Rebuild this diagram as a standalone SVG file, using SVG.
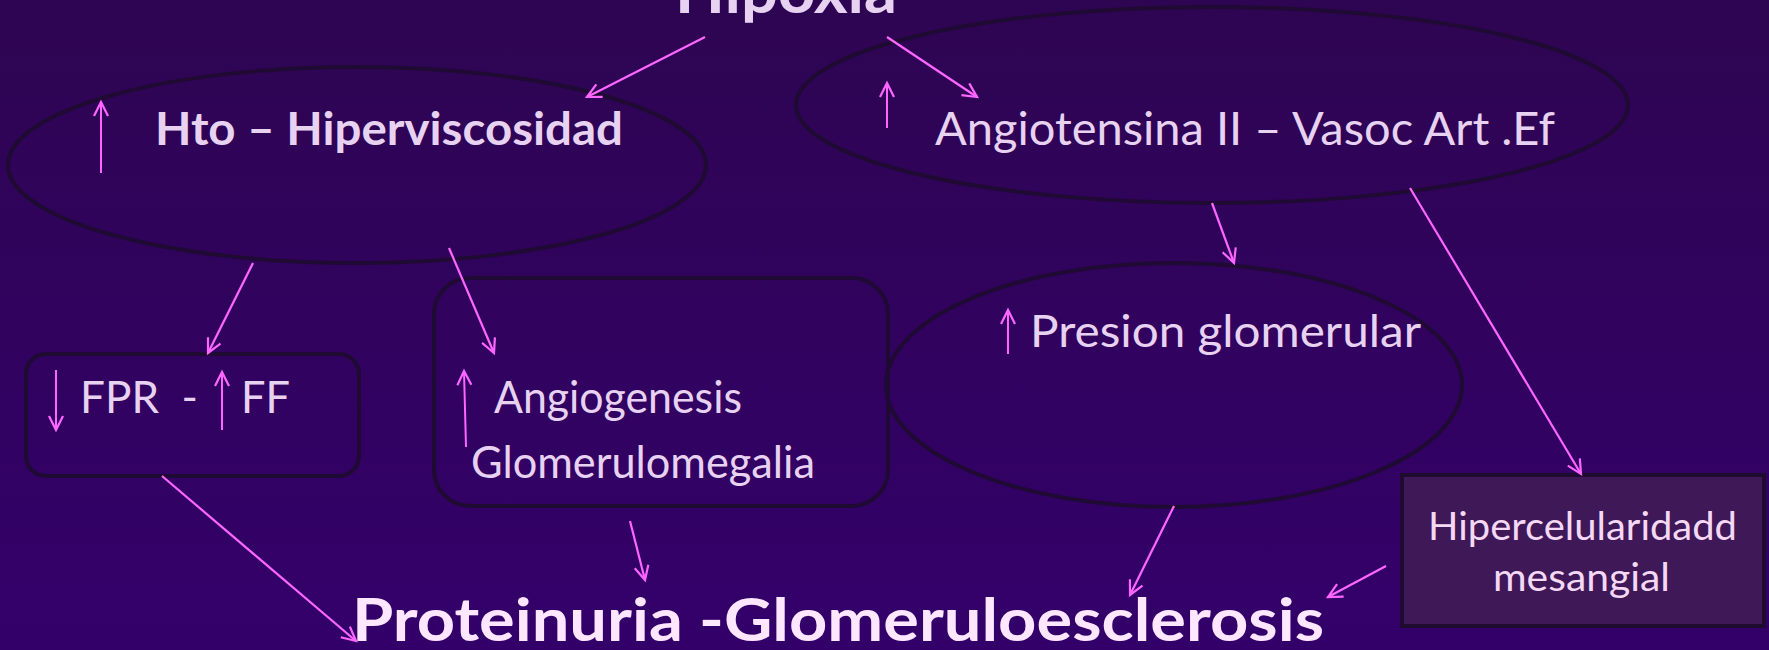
<svg xmlns="http://www.w3.org/2000/svg" width="1769" height="650" viewBox="0 0 1769 650">
<defs>
<linearGradient id="bg" x1="0" y1="0" x2="0" y2="1">
<stop offset="0" stop-color="#2e0552"/>
<stop offset="1" stop-color="#33006a"/>
</linearGradient>
<marker id="ah" markerUnits="userSpaceOnUse" markerWidth="20" markerHeight="20" refX="15" refY="8" orient="auto" viewBox="0 0 20 16">
<path d="M1,1 L15,8 L1,15" fill="none" stroke="#ff66ff" stroke-width="2.2"/>
</marker>
</defs>
<style>
.shape{fill:none;stroke:#1f0a33;stroke-width:4}
.t{font-family:Lato,"Open Sans","Liberation Sans",sans-serif;fill:#e8d2f2}
.b{font-weight:bold}
.conn{stroke:#ff66ff;stroke-width:2.2;fill:none;marker-end:url(#ah)}
.sym{stroke:#ff66ff;stroke-width:2;fill:none;marker-end:url(#ah)}
</style>
<rect x="0" y="0" width="1769" height="650" fill="url(#bg)"/>

<g id="hipoxia">
<text class="t b" x="675" y="13" font-size="62" textLength="222" lengthAdjust="spacingAndGlyphs">Hipoxia</text>
</g>

<g id="hto">
<ellipse class="shape" cx="357" cy="165" rx="349" ry="98"/>
<line class="sym" x1="101" y1="173" x2="101" y2="102"/>
<text class="t b" x="155" y="145" font-size="46" textLength="468" lengthAdjust="spacingAndGlyphs">Hto – Hiperviscosidad</text>
</g>

<g id="angiotensina">
<ellipse class="shape" cx="1212" cy="105" rx="416" ry="98"/>
<line class="sym" x1="887" y1="128" x2="887" y2="83"/>
<text class="t" x="935" y="145" font-size="46" textLength="620" lengthAdjust="spacingAndGlyphs">Angiotensina II – Vasoc Art .Ef</text>
</g>

<g id="fpr">
<rect class="shape" x="26" y="354" width="333" height="122" rx="20"/>
<line class="sym" x1="56" y1="370" x2="56" y2="430"/>
<text class="t" x="80" y="413" font-size="44" textLength="118" lengthAdjust="spacingAndGlyphs" xml:space="preserve">FPR  -</text>
<line class="sym" x1="222" y1="430" x2="222" y2="372"/>
<text class="t" x="241" y="413" font-size="44" textLength="49" lengthAdjust="spacingAndGlyphs">FF</text>
</g>

<g id="angiogenesis">
<rect class="shape" x="434" y="278" width="454" height="228" rx="36"/>
<line class="sym" x1="466" y1="447" x2="464" y2="371"/>
<text class="t" x="494" y="413" font-size="44" textLength="248" lengthAdjust="spacingAndGlyphs">Angiogenesis</text>
<text class="t" x="471" y="478" font-size="44" textLength="344" lengthAdjust="spacingAndGlyphs">Glomerulomegalia</text>
</g>

<g id="presion">
<ellipse class="shape" cx="1174" cy="385" rx="288" ry="122"/>
<line class="sym" x1="1008" y1="354" x2="1008" y2="310"/>
<text class="t" x="1030" y="347" font-size="45" textLength="391" lengthAdjust="spacingAndGlyphs">Presion glomerular</text>
</g>

<g id="hipercelularidad">
<rect x="1402" y="475" width="362" height="151" fill="#3f1858" stroke="#1f0a30" stroke-width="4"/>
<text class="t" x="1428" y="540" font-size="39" fill="#f5d8f5" style="fill:#f5d8f5" textLength="309" lengthAdjust="spacingAndGlyphs">Hipercelularidadd</text>
<text class="t" x="1493" y="591" font-size="39" style="fill:#f5d8f5" textLength="177" lengthAdjust="spacingAndGlyphs">mesangial</text>
</g>

<g id="proteinuria">
<text class="t b" x="352" y="641" font-size="60" style="fill:#fde6ff" textLength="972" lengthAdjust="spacingAndGlyphs">Proteinuria -Glomeruloesclerosis</text>
</g>

<g id="connectors">
<line class="conn" x1="705" y1="37" x2="587" y2="97"/>
<line class="conn" x1="887" y1="37" x2="977" y2="97"/>
<line class="conn" x1="253" y1="263" x2="208" y2="353"/>
<line class="conn" x1="449" y1="248" x2="494" y2="353"/>
<line class="conn" x1="1212" y1="203" x2="1234" y2="263"/>
<line class="conn" x1="1410" y1="188" x2="1581" y2="474"/>
<line class="conn" x1="162" y1="476" x2="356" y2="641"/>
<line class="conn" x1="630" y1="521" x2="645" y2="580"/>
<line class="conn" x1="1174" y1="506" x2="1130" y2="595"/>
<line class="conn" x1="1386" y1="566" x2="1328" y2="597"/>
</g>
</svg>
